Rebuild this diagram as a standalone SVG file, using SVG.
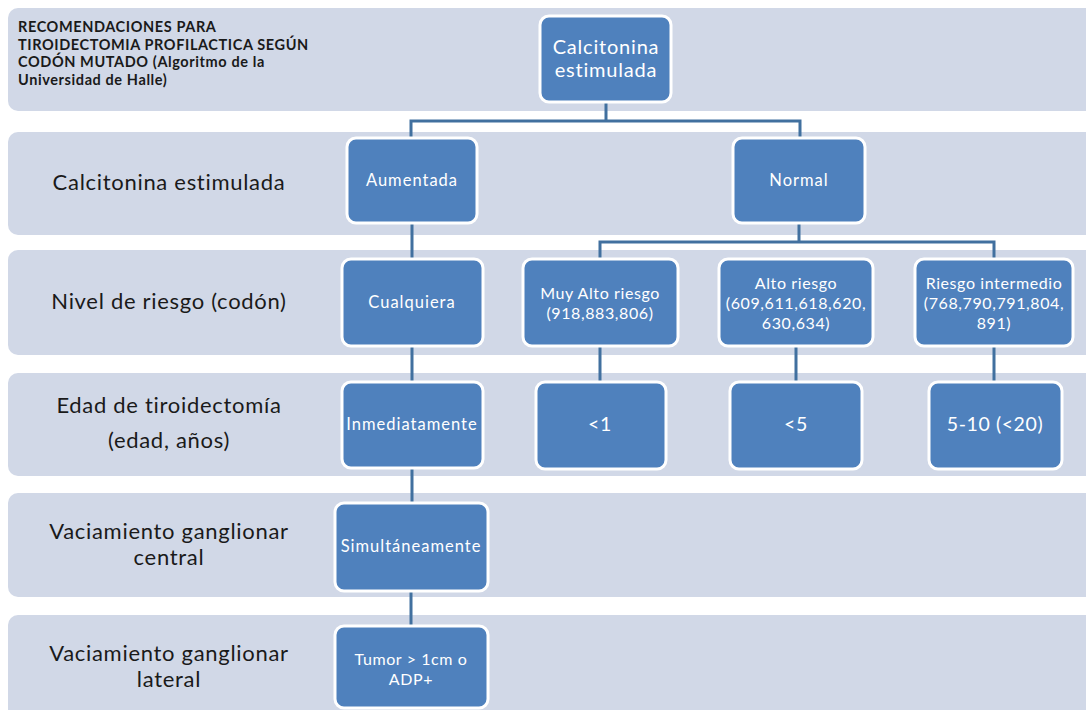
<svg xmlns="http://www.w3.org/2000/svg" width="1086" height="710" viewBox="0 0 1086 710">
<style>
.band{fill:#D1D8E7}
.node rect{fill:#4F81BD;stroke:#FFFFFF;stroke-width:3}
.nt{font-family:Lato,"Liberation Sans",sans-serif;fill:#FFFFFF;text-anchor:middle;font-size:16.5px;letter-spacing:1px}
.nm{font-size:16px;letter-spacing:0.6px}
.nb{font-size:19.5px;letter-spacing:0.6px}
.lbl{font-family:Lato,"Liberation Sans",sans-serif;fill:#1A1A1A;text-anchor:middle;font-size:22px;letter-spacing:0.7px}
.title{font-family:Lato,"Liberation Sans",sans-serif;fill:#1A1A1A;font-weight:bold;font-size:14.5px;letter-spacing:0.6px}
.conn{fill:none;stroke:#41709F;stroke-width:3}
</style>
<rect width="1086" height="710" fill="#FFFFFF"/>
<g id="bands">
<rect class="band" x="8" y="8" width="1100" height="103" rx="10"/>
<rect class="band" x="8" y="132" width="1100" height="103" rx="10"/>
<rect class="band" x="8" y="250" width="1100" height="105" rx="10"/>
<rect class="band" x="8" y="373" width="1100" height="103" rx="10"/>
<rect class="band" x="8" y="493" width="1100" height="104" rx="10"/>
<rect class="band" x="8" y="615" width="1100" height="120" rx="10"/>
</g>
<g id="title">
<text class="title" x="18" y="32">RECOMENDACIONES PARA</text>
<text class="title" x="18" y="50">TIROIDECTOMIA  PROFILACTICA SEGÚN</text>
<text class="title" x="18" y="67">CODÓN  MUTADO (Algoritmo de la</text>
<text class="title" x="18" y="85">Universidad de Halle)</text>
</g>
<g id="row-labels">
<text class="lbl" x="169" y="190">Calcitonina estimulada</text>
<text class="lbl" x="169" y="309">Nivel de riesgo (codón)</text>
<text class="lbl" x="169" y="413">Edad de tiroidectomía</text>
<text class="lbl" x="169" y="448">(edad, años)</text>
<text class="lbl" x="169" y="539">Vaciamiento ganglionar</text>
<text class="lbl" x="169" y="565">central</text>
<text class="lbl" x="169" y="661">Vaciamiento ganglionar</text>
<text class="lbl" x="169" y="687">lateral</text>
</g>
<g id="connectors">
<path class="conn" d="M606,102 V121 M411,138 V121 H800 V138"/>
<path class="conn" d="M412,223 V259 M412,346 V382 M412,468 V503 M411,591 V626"/>
<path class="conn" d="M799,223 V242 M600,259 V242 H994 V259"/>
<path class="conn" d="M600,346 V382 M796,346 V382 M994,346 V382"/>
</g>
<g id="n-root" class="node">
<rect x="540" y="16" width="131" height="86" rx="9"/>
<text class="nt" style="font-size:20px;letter-spacing:0.8px" x="606" y="54">Calcitonina</text>
<text class="nt" style="font-size:20px;letter-spacing:0.8px" x="606" y="77">estimulada</text>
</g>
<g id="n-aumentada" class="node">
<rect x="347" y="138" width="130" height="85" rx="9"/>
<text class="nt" x="412" y="186">Aumentada</text>
</g>
<g id="n-normal" class="node">
<rect x="733" y="138" width="132" height="85" rx="9"/>
<text class="nt" x="799" y="186">Normal</text>
</g>
<g id="n-cualquiera" class="node">
<rect x="342" y="259" width="141" height="87" rx="9"/>
<text class="nt" x="412" y="308">Cualquiera</text>
</g>
<g id="n-muyalto" class="node">
<rect x="523" y="259" width="155" height="87" rx="9"/>
<text class="nt nm" x="600" y="299">Muy Alto riesgo</text>
<text class="nt nm" x="600" y="319">(918,883,806)</text>
</g>
<g id="n-alto" class="node">
<rect x="719" y="259" width="154" height="87" rx="9"/>
<text class="nt nm" x="796" y="289">Alto riesgo</text>
<text class="nt nm" x="796" y="309">(609,611,618,620,</text>
<text class="nt nm" x="796" y="329">630,634)</text>
</g>
<g id="n-intermedio" class="node">
<rect x="915" y="259" width="158" height="87" rx="9"/>
<text class="nt nm" x="994" y="289">Riesgo intermedio</text>
<text class="nt nm" x="994" y="309">(768,790,791,804,</text>
<text class="nt nm" x="994" y="329">891)</text>
</g>
<g id="n-inmediatamente" class="node">
<rect x="342" y="382" width="141" height="86" rx="9"/>
<text class="nt" x="412" y="430">Inmediatamente</text>
</g>
<g id="n-lt1" class="node">
<rect x="536" y="382" width="130" height="87" rx="9"/>
<text class="nt nb" x="600" y="431">&lt;1</text>
</g>
<g id="n-lt5" class="node">
<rect x="730" y="382" width="132" height="87" rx="9"/>
<text class="nt nb" x="796" y="431">&lt;5</text>
</g>
<g id="n-5-10" class="node">
<rect x="929" y="382" width="133" height="87" rx="9"/>
<text class="nt nb" x="995" y="431">5-10 (&lt;20)</text>
</g>
<g id="n-simultaneamente" class="node">
<rect x="335" y="503" width="153" height="88" rx="9"/>
<text class="nt" x="411" y="552">Simultáneamente</text>
</g>
<g id="n-tumor" class="node">
<rect x="335" y="626" width="153" height="82" rx="9"/>
<text class="nt nm" x="411" y="665">Tumor &gt; 1cm o</text>
<text class="nt nm" x="411" y="685">ADP+</text>
</g>
</svg>
